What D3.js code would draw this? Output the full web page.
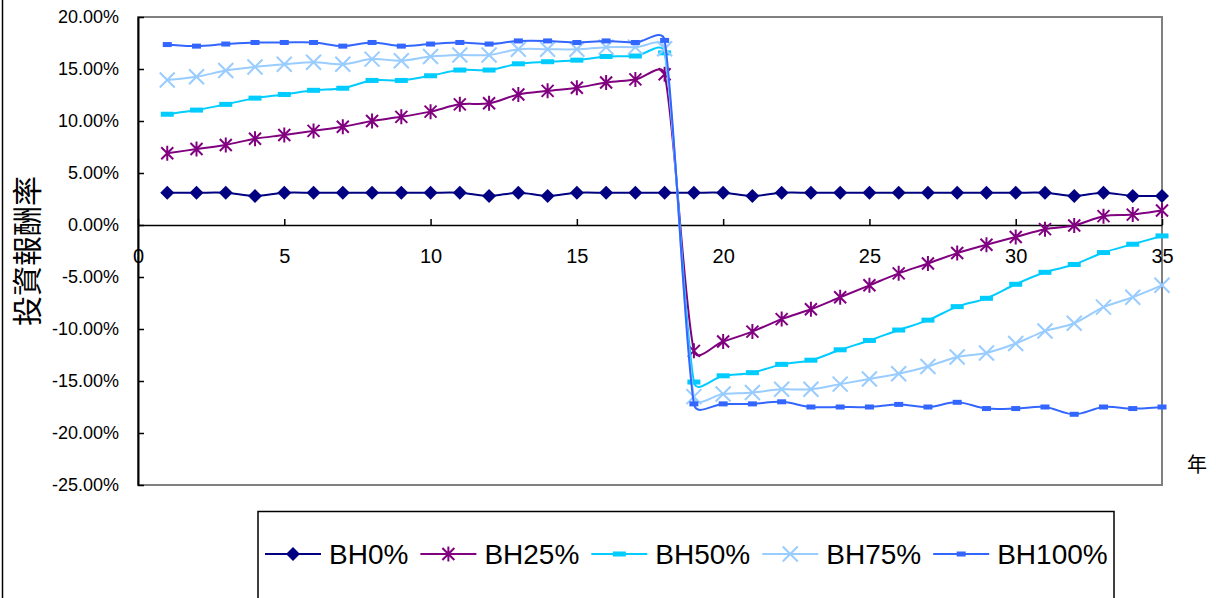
<!DOCTYPE html>
<html>
<head>
<meta charset="utf-8">
<script src="https://cdn.jsdelivr.net/npm/d3@7"></script>
<style>
  html, body { margin: 0; padding: 0; background: #fff; }
  svg { display: block; font-family: "Liberation Sans", Arial, sans-serif; }
</style>
</head>
<body>
<svg id="chart" width="1216" height="598"></svg>
<script>
// ---- data (values in %) ----
const years = d3.range(1, 36);
const seriesNames = ["BH0%", "BH25%", "BH50%", "BH75%", "BH100%"];
const bh0 = [3.1,3.1,3.1,2.8,3.1,3.1,3.1,3.1,3.1,3.1,3.1,2.8,3.1,2.8,3.1,3.1,3.1,3.1,3.1,3.1,2.8,3.1,3.1,3.1,3.1,3.1,3.1,3.1,3.1,3.1,3.1,2.8,3.1,2.8,2.8];
const bh25 = [6.9,7.3,7.7,8.3,8.65,9.05,9.45,10.0,10.4,10.9,11.6,11.7,12.55,12.9,13.2,13.7,14.0,14.5,-12.1,-11.2,-10.25,-9.05,-8.1,-6.95,-5.8,-4.65,-3.7,-2.7,-1.9,-1.15,-0.4,-0.05,0.85,1.0,1.4];
const bh50 = [10.65,11.05,11.6,12.2,12.55,12.95,13.15,13.9,13.9,14.35,14.9,14.9,15.5,15.7,15.85,16.2,16.25,16.55,-15.1,-14.5,-14.2,-13.4,-13.0,-12.0,-11.1,-10.1,-9.15,-7.85,-7.05,-5.7,-4.55,-3.8,-2.65,-1.85,-1.05];
const bh75 = [13.95,14.25,14.85,15.2,15.45,15.65,15.45,15.95,15.8,16.2,16.35,16.35,16.9,16.9,16.9,17.1,17.1,16.95,-16.5,-16.25,-16.1,-15.8,-15.8,-15.3,-14.8,-14.3,-13.6,-12.7,-12.3,-11.4,-10.2,-9.45,-7.9,-6.95,-5.8];
const bh100 = [17.35,17.2,17.4,17.55,17.55,17.55,17.2,17.55,17.2,17.4,17.55,17.4,17.7,17.7,17.55,17.7,17.55,17.75,-17.2,-17.2,-17.2,-17.0,-17.5,-17.5,-17.5,-17.25,-17.5,-17.05,-17.65,-17.65,-17.5,-18.2,-17.5,-17.65,-17.5];
const yTicks = [-25, -20, -15, -10, -5, 0, 5, 10, 15, 20];
const xTicks = [0, 5, 10, 15, 20, 25, 30, 35];
const colors = ["#000080", "#800080", "#00CCFF", "#99CCFF", "#3366FF"];
const markers = ["diamond", "asterisk", "dash", "cross", "smalldash"];

const series = [bh0, bh25, bh50, bh75, bh100].map((vals, k) => ({
  name: seriesNames[k], color: colors[k], marker: markers[k],
  points: vals.map((v, i) => ({ x: years[i], y: v }))
}));

// ---- layout ----
const L = 138, R = 1162, T = 17, B = 485;
const svg = d3.select("#chart");
const x = d3.scaleLinear().domain([0, 35]).range([L, R]);
const y = d3.scaleLinear().domain([-25, 20]).range([B, T]);

// Excel-like smoothed line: Bezier segments, control = tangent/6, damped next to much longer segments
function smoothPath(pts) {
  const p = d3.path();
  const n = pts.length;
  const P = i => pts[Math.max(0, Math.min(n - 1, i))];
  const dist = (a, b) => Math.hypot(b[0] - a[0], b[1] - a[1]);
  p.moveTo(pts[0][0], pts[0][1]);
  for (let i = 0; i < n - 1; i++) {
    const p0 = P(i - 1), p1 = P(i), p2 = P(i + 1), p3 = P(i + 2);
    const d01 = dist(p0, p1), d12 = dist(p1, p2), d23 = dist(p2, p3);
    const f1 = (d01 + d12) > 0 ? Math.min(1, 3 * d12 / (d01 + d12)) / 6 : 0;
    const f2 = (d12 + d23) > 0 ? Math.min(1, 3 * d12 / (d12 + d23)) / 6 : 0;
    const c1 = [p1[0] + (p2[0] - p0[0]) * f1, p1[1] + (p2[1] - p0[1]) * f1];
    const c2 = [p2[0] - (p3[0] - p1[0]) * f2, p2[1] - (p3[1] - p1[1]) * f2];
    p.bezierCurveTo(c1[0], c1[1], c2[0], c2[1], p2[0], p2[1]);
  }
  return p.toString();
}

// outer chart frame (left edge)
svg.append("line").attr("x1", 2.5).attr("x2", 2.5).attr("y1", 0).attr("y2", 598)
  .attr("stroke", "#000").attr("stroke-width", 1.5);

// plot area frame
svg.append("rect").attr("x", L).attr("y", T).attr("width", R - L).attr("height", B - T)
  .attr("fill", "none").attr("stroke", "#808080").attr("stroke-width", 2);

// y axis
const yAxis = d3.axisLeft(y).tickValues(yTicks).tickSizeInner(-6).tickSizeOuter(0).tickPadding(19)
  .tickFormat(d => d.toFixed(2) + "%");
const gy = svg.append("g").attr("transform", `translate(${L},0)`).call(yAxis);
gy.select(".domain").attr("stroke", "#000").attr("stroke-width", 2);
gy.selectAll(".tick line").attr("stroke", "#000").attr("stroke-width", 1.5);
gy.selectAll("text").attr("font-size", 18).attr("fill", "#000")
  .attr("font-family", "'Liberation Sans', Arial, sans-serif");

// x axis at 0
const xAxis = d3.axisBottom(x).tickValues(xTicks).tickSizeInner(-6).tickSizeOuter(0).tickPadding(24)
  .tickFormat(d3.format("d"));
const gx = svg.append("g").attr("transform", `translate(0,${y(0)})`).call(xAxis);
gx.select(".domain").attr("stroke", "#000").attr("stroke-width", 1.5);
gx.selectAll(".tick line").attr("stroke", "#000").attr("stroke-width", 1.5);
gx.selectAll("text").attr("font-size", 20).attr("fill", "#000")
  .attr("font-family", "'Liberation Sans', Arial, sans-serif");

// axis titles
svg.append("text").attr("transform", "translate(25,251) rotate(-90)")
  .attr("text-anchor", "middle").attr("dominant-baseline", "central")
  .attr("font-family", "'Noto Sans CJK TC', sans-serif").attr("font-size", 30)
  .text("投資報酬率");
svg.append("text").attr("x", 1197).attr("y", 463)
  .attr("text-anchor", "middle").attr("dominant-baseline", "central")
  .attr("font-family", "'Noto Sans CJK TC', sans-serif").attr("font-size", 20)
  .text("年");

// markers
function drawMarker(g, type, color) {
  if (type === "diamond") {
    g.append("path").attr("d", "M0,-7L7,0L0,7L-7,0Z").attr("fill", color);
  } else if (type === "asterisk") {
    g.append("path").attr("d", "M-6,-6L6,6M-6,6L6,-6M0,-7.5L0,7.5")
      .attr("stroke", color).attr("stroke-width", 2).attr("fill", "none");
  } else if (type === "dash") {
    g.append("rect").attr("x", -6.5).attr("y", -2.5).attr("width", 13).attr("height", 5).attr("fill", color);
  } else if (type === "cross") {
    g.append("path").attr("d", "M-7.5,-7.5L7.5,7.5M-7.5,7.5L7.5,-7.5")
      .attr("stroke", color).attr("stroke-width", 2).attr("fill", "none");
  } else if (type === "smalldash") {
    g.append("rect").attr("x", -4.5).attr("y", -2.5).attr("width", 9).attr("height", 5).attr("fill", color);
  }
}

series.forEach(s => {
  const g = svg.append("g");
  const pix = s.points.map(d => [x(d.x), y(d.y)]);
  g.append("path").attr("d", smoothPath(pix))
    .attr("fill", "none").attr("stroke", s.color).attr("stroke-width", 2);
  s.points.forEach(p => {
    const m = g.append("g").attr("transform", `translate(${x(p.x)},${y(p.y)})`);
    drawMarker(m, s.marker, s.color);
  });
});

// legend
const lg = svg.append("g");
lg.append("rect").attr("x", 258).attr("y", 511.5).attr("width", 856).attr("height", 95)
  .attr("fill", "#fff").attr("stroke", "#000").attr("stroke-width", 1.5);
let cx = 265;
const ly = 554;
series.forEach(s => {
  lg.append("line").attr("x1", cx).attr("x2", cx + 56).attr("y1", ly).attr("y2", ly)
    .attr("stroke", s.color).attr("stroke-width", 2);
  const m = lg.append("g").attr("transform", `translate(${cx + 28},${ly})`);
  drawMarker(m, s.marker, s.color);
  const t = lg.append("text").attr("x", cx + 64).attr("y", ly).attr("dominant-baseline", "central")
    .attr("font-size", 28).attr("fill", "#000").text(s.name);
  cx = cx + 64 + t.node().getComputedTextLength() + 12;
});
</script>
</body>
</html>
